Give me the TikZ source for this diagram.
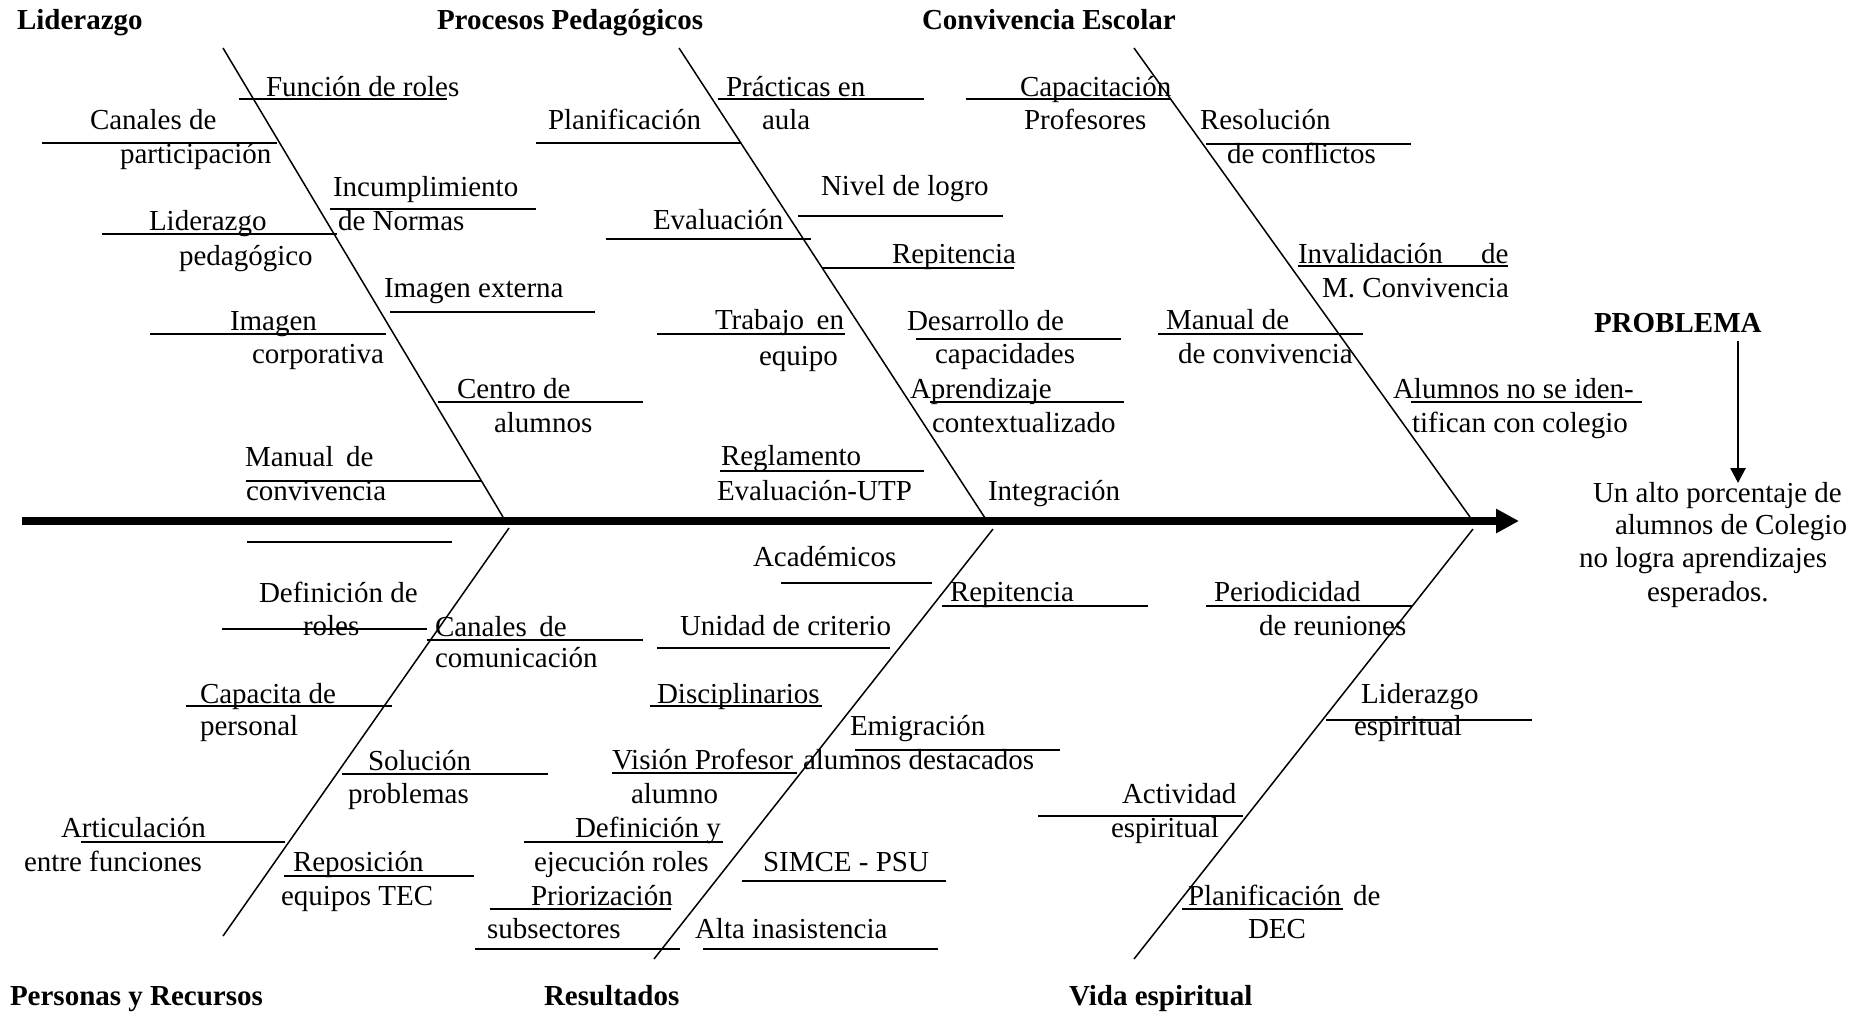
\documentclass[tikz,border=0pt]{standalone}
\usepackage{fontspec}
\setmainfont{Liberation Serif}
\usetikzlibrary{arrows.meta}
\newcommand\dsp{\hspace{0.43em}}
\newcommand\tx[4]{\node[lbl] (#1) at (#2,#3) {#4};}
\newcommand\hdr[4]{\node[hdrlbl] (#1) at (#2,#3) {#4};}
\newcommand\uln[3]{\draw[ulst] (#1,#3) -- (#2,#3);}
\begin{document}
\begin{tikzpicture}[x=1pt,y=-1pt,
  lbl/.style={anchor=base west,inner sep=0pt,outer sep=0pt,font=\fontsize{29}{34}\selectfont},
  hdrlbl/.style={lbl,font=\fontsize{29}{34}\selectfont\bfseries},
  ulst/.style={line width=1.7pt},
  bone/.style={line width=1.5pt},
  spine/.style={line width=8pt,-{Triangle[length=23pt,width=23pt]}},
  parrow/.style={line width=2.7pt,-{Triangle[length=15pt,width=15pt]}}]
\useasboundingbox[fill=white] (0,0) rectangle (1867,1015);

% ---- spine and bones
\coordinate (s0) at (22,521);
\coordinate (s1) at (1519,521);
\draw[spine] (s0) -- (s1);

\coordinate (b1a) at (223,48);  \coordinate (b1b) at (503,517);
\coordinate (b2a) at (679,48);  \coordinate (b2b) at (985,518);
\coordinate (b3a) at (1134,48); \coordinate (b3b) at (1470,517);
\coordinate (b4a) at (509,528); \coordinate (b4b) at (223,936);
\coordinate (b5a) at (993,529); \coordinate (b5b) at (654,959);
\coordinate (b6a) at (1473,529);\coordinate (b6b) at (1134,959);
\draw[bone] (b1a) -- (b1b);
\draw[bone] (b2a) -- (b2b);
\draw[bone] (b3a) -- (b3b);
\draw[bone] (b4a) -- (b4b);
\draw[bone] (b5a) -- (b5b);
\draw[bone] (b6a) -- (b6b);

% ---- titles
\hdr{t1}{17}{29}{Liderazgo}
\hdr{t2}{437}{29}{Procesos Pedagógicos}
\hdr{t3}{922}{29}{Convivencia Escolar}
\hdr{t4}{10}{1005}{Personas y Recursos}
\hdr{t5}{544}{1005}{Resultados}
\hdr{t6}{1069}{1005}{Vida espiritual}
\hdr{prob}{1594}{332}{PROBLEMA}

% ---- problem
\coordinate (pa) at (1738,341);
\coordinate (pb) at (1738,483);
\draw[parrow] (pa) -- (pb);
\tx{r1}{1593}{502}{Un alto porcentaje de}
\tx{r2}{1615}{534}{alumnos de Colegio}
\tx{r3}{1579}{567}{no logra aprendizajes}
\tx{r4}{1647}{601}{esperados.}

% ---- Liderazgo
\tx{a1}{266}{96}{Función de roles}      \uln{239}{447}{99}
\tx{a2}{90}{129}{Canales de}            \uln{42}{277}{143}
\tx{a3}{120}{163}{participación}
\tx{a4}{333}{196}{Incumplimiento}       \uln{330}{536}{209}
\tx{a5}{338}{230}{de Normas}
\tx{a6}{149}{230}{Liderazgo}            \uln{102}{337}{234}
\tx{a7}{179}{265}{pedagógico}
\tx{a8}{384}{297}{Imagen externa}       \uln{390}{595}{312}
\tx{a9}{230}{330}{Imagen}               \uln{150}{386}{334}
\tx{a10}{252}{363}{corporativa}
\tx{a11}{457}{398}{Centro de}           \uln{438}{643}{402}
\tx{a12}{494}{432}{alumnos}
\tx{a13}{245}{466}{Manual\dsp de}       \uln{246}{481}{481}
\tx{a14}{246}{500}{convivencia}

% ---- Personas y Recursos
\uln{247}{452}{542}
\tx{c1}{259}{602}{Definición de}
\tx{c2}{303}{635}{roles}                \uln{222}{427}{629}
\tx{c3}{435}{636}{Canales\dsp de}       \uln{427}{643}{640}
\tx{c4}{435}{667}{comunicación}
\tx{c5}{200}{703}{Capacita de}          \uln{186}{392}{706}
\tx{c6}{200}{735}{personal}
\tx{c7}{368}{770}{Solución}             \uln{342}{548}{774}
\tx{c8}{348}{803}{problemas}
\tx{c9}{61}{837}{Articulación}          \uln{81}{285}{842}
\tx{c10}{24}{871}{entre funciones}
\tx{c11}{293}{871}{Reposición}          \uln{284}{474}{876}
\tx{c12}{281}{905}{equipos TEC}

% ---- Procesos Pedagogicos
\tx{p1}{726}{96}{Prácticas en}          \uln{718}{924}{99}
\tx{p2}{762}{129}{aula}
\tx{p3}{548}{129}{Planificación}        \uln{536}{741}{143}
\tx{p4}{821}{195}{Nivel de logro}       \uln{798}{1003}{216}
\tx{p5}{653}{229}{Evaluación}           \uln{606}{811}{239}
\tx{p6}{892}{263}{Repitencia}           \uln{822}{1014}{268}
\tx{p7}{715}{329}{Trabajo\dsp en}       \uln{657}{845}{334}
\tx{p8}{759}{365}{equipo}
\tx{p9}{907}{330}{Desarrollo de}        \uln{916}{1121}{339}
\tx{p10}{935}{363}{capacidades}
\tx{p11}{910}{398}{Aprendizaje}         \uln{930}{1124}{402}
\tx{p12}{932}{432}{contextualizado}
\tx{p13}{721}{465}{Reglamento}          \uln{720}{924}{471}
\tx{p14}{717}{500}{Evaluación-UTP}
\tx{p15}{988}{500}{Integración}

% ---- Resultados
\tx{m1}{753}{566}{Académicos}           \uln{781}{932}{583}
\tx{m2}{950}{601}{Repitencia}           \uln{942}{1148}{606}
\tx{m3}{680}{635}{Unidad de criterio}   \uln{657}{890}{648}
\tx{m4}{657}{703}{Disciplinarios}       \uln{650}{822}{706}
\tx{m5}{850}{735}{Emigración}           \uln{855}{1060}{750}
\tx{m6}{612}{769}{Visión Profesor}      \uln{612}{797}{773}
\tx{m7}{803}{769}{alumnos destacados}
\tx{m8}{631}{803}{alumno}
\tx{m9}{575}{837}{Definición y}         \uln{524}{723}{842}
\tx{m10}{534}{871}{ejecución roles}
\tx{m11}{763}{871}{SIMCE - PSU}         \uln{742}{946}{881}
\tx{m12}{531}{905}{Priorización}        \uln{490}{671}{909}
\tx{m13}{487}{938}{subsectores}         \uln{475}{680}{949}
\tx{m14}{695}{938}{Alta inasistencia}   \uln{703}{938}{949}

% ---- Convivencia Escolar
\tx{e1}{1020}{96}{Capacitación}         \uln{966}{1170}{99}
\tx{e2}{1024}{129}{Profesores}
\tx{e3}{1200}{129}{Resolución}          \uln{1206}{1411}{144}
\tx{e4}{1227}{163}{de conflictos}
\tx{e5}{1298}{263}{Invalidación}
\tx{e5b}{1481}{263}{de}                 \uln{1298}{1508}{266}
\tx{e6}{1322}{297}{M. Convivencia}
\tx{e7}{1166}{329}{Manual de}           \uln{1158}{1363}{334}
\tx{e8}{1178}{363}{de convivencia}
\tx{e9}{1393}{398}{Alumnos no se iden-} \uln{1411}{1642}{402}
\tx{e10}{1412}{432}{tifican con colegio}

% ---- Vida espiritual
\tx{v1}{1214}{601}{Periodicidad}        \uln{1206}{1412}{606}
\tx{v2}{1259}{635}{de reuniones}
\tx{v3}{1361}{703}{Liderazgo}
\tx{v4}{1354}{735}{espiritual}          \uln{1326}{1532}{720}
\tx{v5}{1122}{803}{Actividad}           \uln{1038}{1243}{816}
\tx{v6}{1111}{837}{espiritual}
\tx{v7}{1188}{905}{Planificación}
\tx{v7b}{1353}{905}{de}                 \uln{1182}{1343}{909}
\tx{v8}{1248}{938}{DEC}
\end{tikzpicture}
\end{document}
